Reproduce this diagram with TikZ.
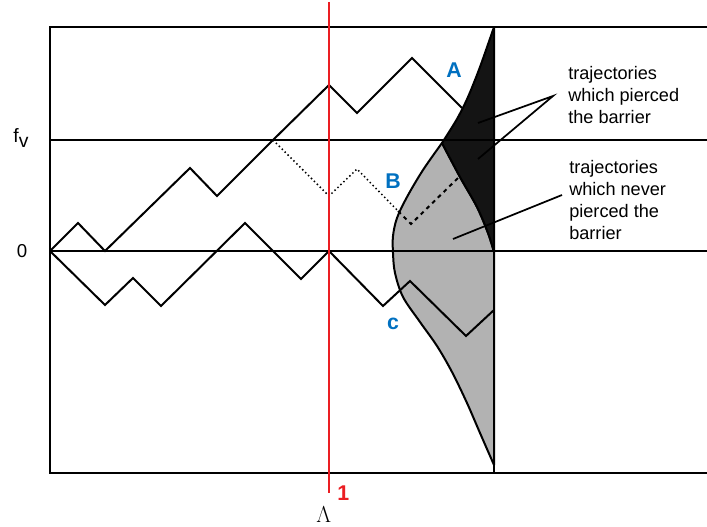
\documentclass[tikz,border=0pt]{standalone}
\usepackage{fontspec}
\setmainfont{Liberation Sans}
\usetikzlibrary{positioning}
\definecolor{tagblue}{RGB}{0,112,192}
\definecolor{markred}{RGB}{235,30,35}

\begin{document}
\begin{tikzpicture}[
  x=0.75pt, y=-0.75pt,
  font=\fontsize{13.6}{16.5}\selectfont,
  frame/.style={line width=1.4pt},
  traj/.style={line width=1.5pt, line join=miter},
  region/.style={draw, line width=1.5pt, line join=round},
  note/.style={align=left, inner sep=0pt},
  tag/.style={text=tagblue, font=\fontsize{16}{16}\selectfont\bfseries, inner sep=0pt},
  pointer/.style={line width=1.3pt}
]
  \useasboundingbox (0,0) rectangle (707,527);

  % shaded regions
  \filldraw[region, fill=black!30]
    plot[smooth, tension=0.55] coordinates {(442,143) (423,170) (407,197) (397,218) (393,236) (393,253) (395,273) (403,297) (420,322) (437,346) (452,372) (467,403) (480,433) (494,465)}
    -- plot[smooth, tension=0.55] coordinates {(494,252) (488,233) (477,207) (460,177) (442,143)} -- cycle;
  \filldraw[region, fill=black!92]
    plot[smooth, tension=0.5] coordinates {(494,27) (480,67) (468,97) (457,119) (442,143)}
    -- plot[smooth, tension=0.55] coordinates {(442,143) (460,177) (477,207) (488,233) (494,252)} -- cycle;

  % frame and levels
  \draw[frame] (707,27) -- (50,27) -- (50,473) -- (707,473);
  \draw[frame] (50,140) -- (707,140);
  \draw[frame] (50,251) -- (707,251);
  \draw[frame] (494,27) -- (494,473);
  \node[font=\fontsize{14.5}{16}\selectfont] (fv) at (21,138) {f\raisebox{-4pt}{v}};
  \node[font=\fontsize{14}{16}\selectfont] (zero) at (22,251) {0};

  % trajectories
  \draw[traj] (50,251) -- (78,223) -- (105,251) -- (190,168) -- (217,196) -- (273,140)
    -- (329,85) -- (357,113) -- (412,58) -- (462,108);
  \draw[traj, line width=1.1pt, dotted] (273,140) -- (329,196) -- (357,169) -- (398,211);
  \draw[traj, dashed] (398,211) -- (411,224) -- (459,177);
  \draw[traj] (50,251) -- (105,305) -- (133,278) -- (161,306) -- (245,223) -- (301,279)
    -- (329,251) -- (383,306) -- (410,281) -- (466,336) -- (494,310);

  \node[tag] (tagA) at (454,70) {A};
  \node[tag] (tagB) at (393,181) {B};
  \node[tag] (tagC) at (393,324) {c};

  % notes
  \node[note, anchor=west] (pierced) at (568,95) {trajectories\\which pierced\\the barrier};
  \node[note, anchor=west] (never) at (569,200) {trajectories\\which never\\pierced the\\barrier};
  \coordinate (pfork) at (553,96);
  \coordinate (pupper) at (478,123);
  \coordinate (plower) at (478,159);
  \draw[pointer] (pupper) -- (pfork) -- (plower);
  \coordinate (nfork) at (562,195);
  \coordinate (nend) at (453,239);
  \draw[pointer] (nfork) -- (nend);

  % barrier position
  \draw[markred, line width=1.5pt] (329,2) -- (329,493) coordinate (rbot);
  \node[text=markred, font=\fontsize{16}{16}\selectfont\bfseries, inner sep=0pt, right=6pt of rbot] (one) {1};
  \node[inner sep=0pt, below=10pt of rbot, xshift=-4pt, font=\fontsize{17}{17}\selectfont] (lam) {$\Lambda$};
\end{tikzpicture}
\end{document}
